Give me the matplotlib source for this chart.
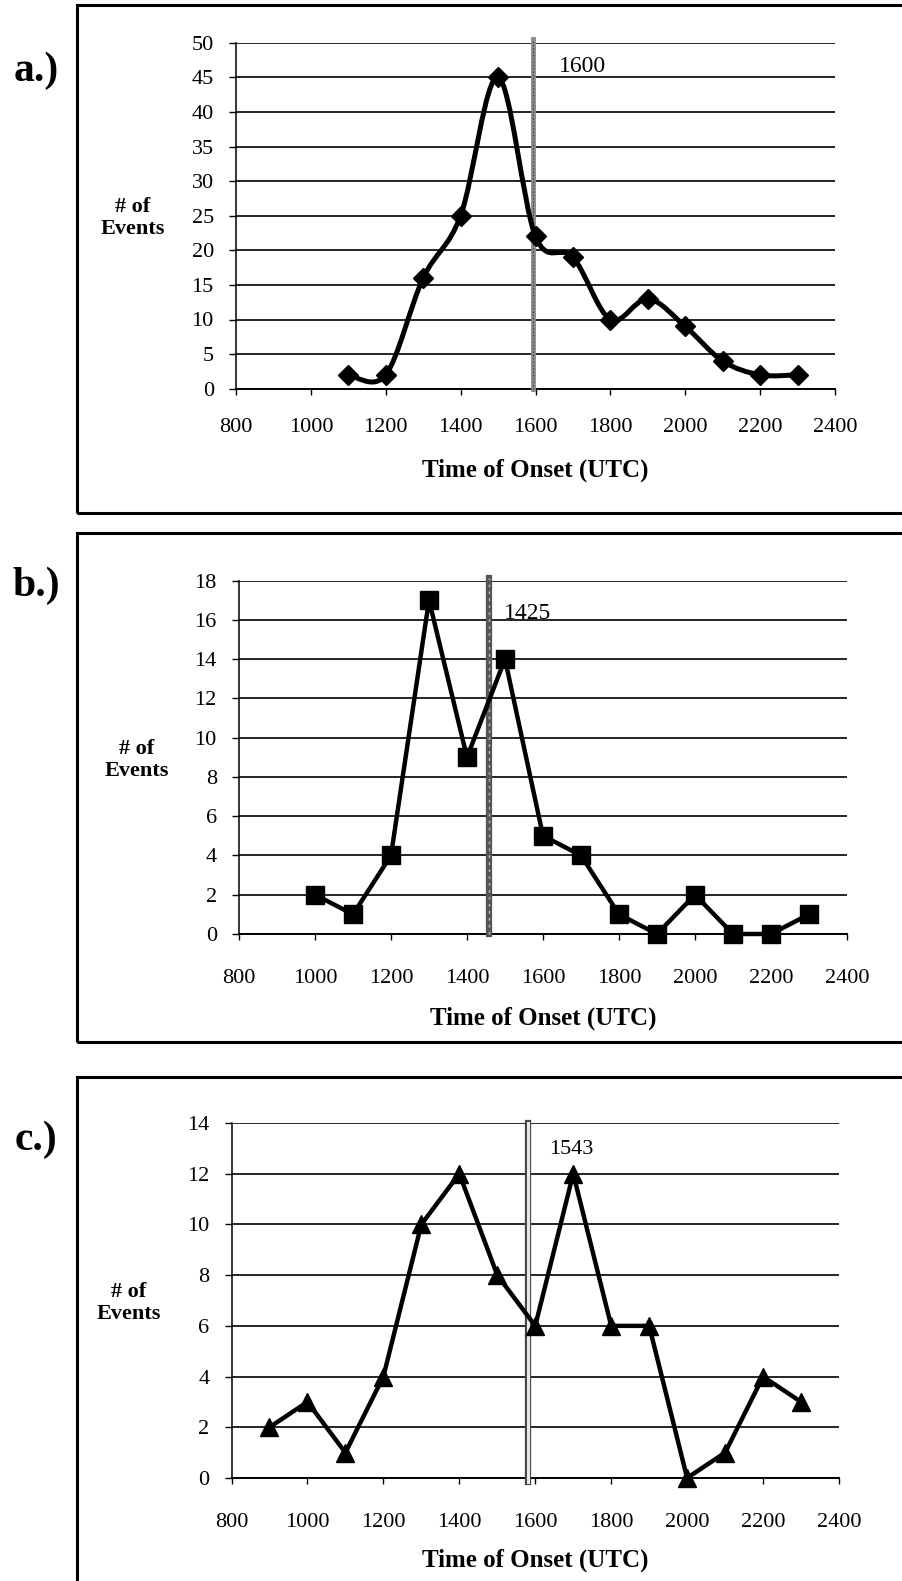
import numpy as np
import matplotlib
matplotlib.use('Agg')
import matplotlib.pyplot as plt
from matplotlib.path import Path
from matplotlib.patches import PathPatch, Rectangle

plt.rcParams['font.family'] = ['Liberation Serif', 'DejaVu Serif']

# data
hours_a = [1100, 1200, 1300, 1400, 1500, 1600, 1700, 1800, 1900, 2000, 2100, 2200, 2300]
events_a = [2, 2, 16, 25, 45, 22, 19, 10, 13, 9, 4, 2, 2]
hours_b = [1000, 1100, 1200, 1300, 1400, 1500, 1600, 1700, 1800, 1900, 2000, 2100, 2200, 2300]
events_b = [2, 1, 4, 17, 9, 14, 5, 4, 1, 0, 2, 0, 0, 1]
hours_c = [900, 1000, 1100, 1200, 1300, 1400, 1500, 1600, 1700, 1800, 1900, 2000, 2100, 2200, 2300]
events_c = [2, 3, 1, 4, 10, 12, 8, 6, 12, 6, 6, 0, 1, 4, 3]

# mean onset lines: (label, where the line sits)
mean_a = ('1600', 1593)
mean_b = ('1425', 1458)
mean_c = ('1543', 1582)

W, H = 902, 1581
fig = plt.figure(figsize=(W / 100, H / 100), dpi=100)


def fx(x):
    return x / W


def fy(y):
    return 1 - y / H


def make_axes(left, right, top, bottom):
    return fig.add_axes([fx(left), fy(bottom), (right - left) / W, (bottom - top) / H])


def smooth_path(xs, ys):
    # Excel-like smoothed line: bezier segments through the points
    pts = np.column_stack([xs, ys]).astype(float)
    n = len(pts)
    verts = [pts[0]]
    codes = [Path.MOVETO]
    for i in range(n - 1):
        p0 = pts[i - 1] if i > 0 else pts[i]
        p1 = pts[i]
        p2 = pts[i + 1]
        p3 = pts[i + 2] if i + 2 < n else pts[i + 1]
        c1 = p1 + (p2 - p0) / 6
        c2 = p2 - (p3 - p1) / 6
        verts += [c1, c2, p2]
        codes += [Path.CURVE4] * 3
    return Path(verts, codes)


def style(ax, ymax, ystep, xpad):
    ax.set_xlim(800, 2400)
    ax.set_ylim(0, ymax)
    ax.set_xticks(range(800, 2401, 200))
    ax.set_yticks(np.arange(0, ymax + 0.1, ystep))
    for s in ['top', 'right', 'bottom']:
        ax.spines[s].set_visible(False)
    ax.spines['left'].set_linewidth(1.1)
    ax.grid(axis='y', color='black', linewidth=1.2)
    ax.set_axisbelow(True)
    ax.tick_params(axis='x', direction='out', length=4, width=1, pad=xpad, labelsize=16)
    ax.tick_params(axis='y', direction='out', length=5, width=1, pad=11, labelsize=16)
    ax.axhline(0, color='black', linewidth=1.4, clip_on=False)


# panel boxes
for top, bottom in [(5, 512.5), (533, 1042), (1077, 1600)]:
    fig.add_artist(Rectangle((fx(77), fy(bottom)), 1.2, (bottom - top) / H,
                             transform=fig.transFigure, fill=False,
                             edgecolor='black', linewidth=2.2))

# panel a
ax_a = make_axes(236, 835, 42.7, 388.7)
style(ax_a, 50, 5, 17)
ax_a.axvline(mean_a[1], ymin=0, ymax=1.012, color='#8a8a8a', linewidth=3.5, clip_on=False)
ax_a.axvline(mean_a[1], ymin=0, ymax=1.012, color='#333333', linewidth=0.8,
             linestyle=(0, (1, 2)), clip_on=False)
ax_a.add_patch(PathPatch(smooth_path(hours_a, events_a), fill=False,
                         edgecolor='black', linewidth=3.6, capstyle='round', zorder=3))
ax_a.plot(hours_a, events_a, linestyle='none', marker='D', markersize=10.5,
          color='black', zorder=4)
ax_a.text(mean_a[1] + 70, 46.6, mean_a[0], fontsize=17, va='center', ha='left')

# panel b
ax_b = make_axes(239, 847, 580.5, 934)
style(ax_b, 18, 2, 21)
ax_b.axvline(mean_b[1], ymin=0, ymax=1.008, color='#555555', linewidth=4.5, clip_on=False)
ax_b.axvline(mean_b[1], ymin=0, ymax=1.008, color='#bbbbbb', linewidth=1,
             linestyle=(0, (2, 3)), clip_on=False)
ax_b.plot(hours_b, events_b, color='black', linewidth=3.2, marker='s',
          markersize=12.5, zorder=4, clip_on=False)
ax_b.text(mean_b[1] + 40, 16.3, mean_b[0], fontsize=17, va='center', ha='left')

# panel c
ax_c = make_axes(231.5, 839, 1123, 1478)
style(ax_c, 14, 2, 21)
ax_c.axvline(mean_c[1], ymin=-0.01, ymax=1.0, color='#444444', linewidth=4.5, clip_on=False)
ax_c.axvline(mean_c[1], ymin=-0.01, ymax=1.0, color='#e8e8e8', linewidth=2.2, clip_on=False)
ax_c.plot(hours_c, events_c, color='black', linewidth=3.2, marker='^',
          markersize=13.5, zorder=4, clip_on=False)
ax_c.text(mean_c[1] + 55, 12.95, mean_c[0], fontsize=16, va='center', ha='left')

# panel letters and axis titles
for label, y in [('a.)', 71), ('b.)', 586), ('c.)', 1140)]:
    fig.text(fx(36), fy(y), label, fontsize=30, fontweight='bold', ha='center', va='center')

for x, y in [(133, 218), (137, 760), (129, 1303)]:
    fig.text(fx(x), fy(y), '# of\nEvents', fontsize=16, fontweight='bold',
             ha='center', va='center', linespacing=1.15)

for x, y in [(535.5, 470), (543, 1018), (535, 1560)]:
    fig.text(fx(x), fy(y), 'Time of Onset (UTC)', fontsize=18, fontweight='bold',
             ha='center', va='center')

fig.savefig('out.png', dpi=100, facecolor='white')
